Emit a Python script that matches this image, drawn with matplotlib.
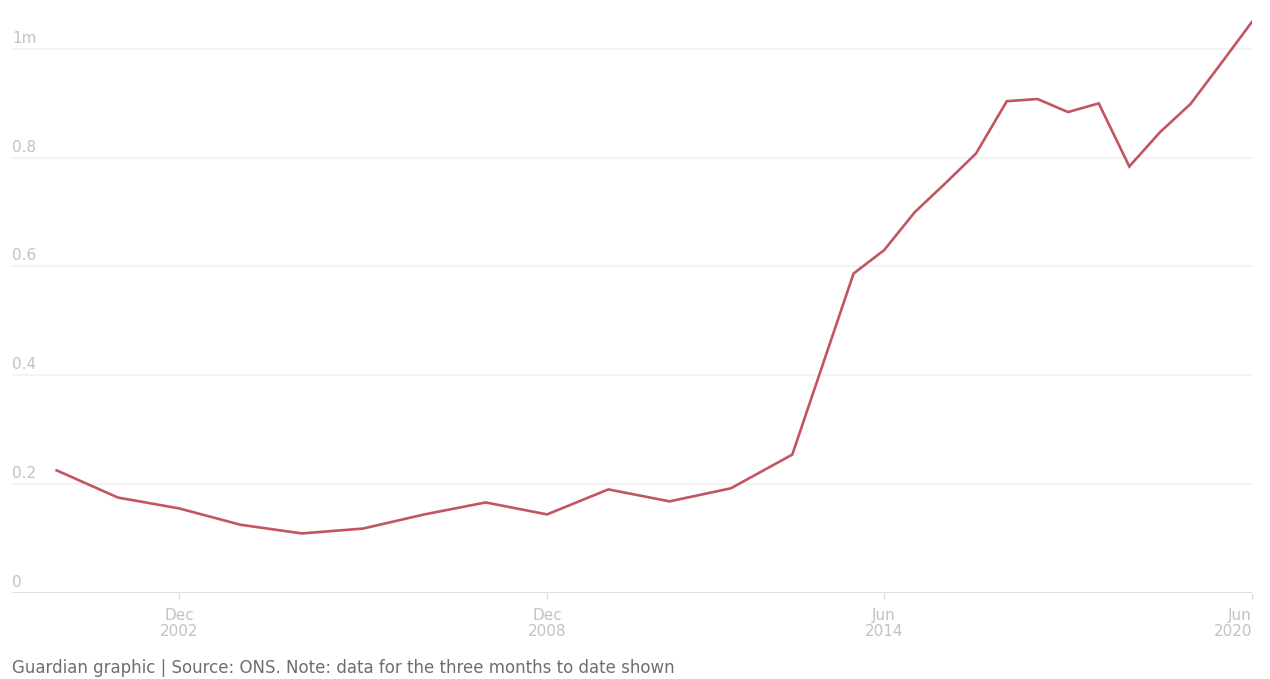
import numpy as np
import pandas as pd
import matplotlib
matplotlib.use("Agg")
import matplotlib.pyplot as plt
import matplotlib.dates as mdates
import matplotlib.transforms as mtransforms

plt.rcParams['font.family'] = ['DejaVu Sans']

# ---------------------------------------------------------------- data
# yearly readings to Dec 2013, then every six months
dates = ['2000-12', '2001-12', '2002-12', '2003-12', '2004-12', '2005-12',
         '2006-12', '2007-12', '2008-12', '2009-12', '2010-12', '2011-12',
         '2012-12', '2013-12', '2014-06', '2014-12', '2015-06', '2015-12',
         '2016-06', '2016-12', '2017-06', '2017-12', '2018-06', '2018-12',
         '2019-06', '2019-12', '2020-06']
values = [0.225, 0.175, 0.155, 0.125, 0.109, 0.118,
          0.144, 0.166, 0.144, 0.190, 0.168, 0.192,
          0.254, 0.587, 0.630, 0.700, 0.753, 0.808,
          0.904, 0.908, 0.884, 0.900, 0.784, 0.847,
          0.899, 0.974, 1.050]

ytick_vals = [0, 0.2, 0.4, 0.6, 0.8, 1.0]
ytick_labels = ['0', '0.2', '0.4', '0.6', '0.8', '1m']
xtick_dates = ['2002-12', '2008-12', '2014-06', '2020-06']
xtick_labels = ['Dec\n2002', 'Dec\n2008', 'Jun\n2014', 'Jun\n2020']

footer = 'Guardian graphic | Source: ONS. Note: data for the three months to date shown'

# ---------------------------------------------------------------- figure
W, H = 1270, 679
fig = plt.figure(figsize=(W / 100, H / 100), dpi=100)
fig.patch.set_facecolor('white')

x0, x1 = 12, 1252          # pixel extent of plot area
y_base = 592.7             # pixel row of zero line
px_per_unit = 543.7
ymax = 1.06
ax = fig.add_axes([x0 / W, (H - y_base) / H, (x1 - x0) / W, ymax * px_per_unit / H])

t = pd.to_datetime(dates)
ax.plot(t, values, color='#c25561', lw=1.9, solid_joinstyle='miter', zorder=3)

ax.set_xlim(pd.Timestamp('2000-03-10'), pd.Timestamp('2020-06-01'))
ax.set_ylim(0, ymax)

for s in ax.spines.values():
    s.set_visible(False)

# gridlines with labels sitting on top of them
lbl_trans = mtransforms.blended_transform_factory(ax.transAxes, ax.transData)
lift = mtransforms.ScaledTranslation(0, 3 / 100, fig.dpi_scale_trans)
for v, lab in zip(ytick_vals, ytick_labels):
    ax.axhline(v, color='#dedede' if v == 0 else '#f1f1f1',
               lw=1.4 if v == 0 else 1.2, zorder=1)
    ax.text(0.0, v, lab, transform=lbl_trans + lift,
            ha='left', va='bottom', fontsize=11, color='#c2c2c2')
ax.set_yticks([])

ax.set_xticks(pd.to_datetime(xtick_dates))
ax.set_xticklabels(xtick_labels, fontsize=11, color='#c2c2c2', linespacing=1.05)
ax.tick_params(axis='x', length=4, width=1, color='#dcdcdc', pad=7)
xl = ax.get_xticklabels()
xl[-1].set_horizontalalignment('right')
xl[-1].set_multialignment('right')

fig.text(x0 / W, (H - 668) / H, footer, fontsize=12, color='#6e6e6e',
         ha='left', va='center')

fig.savefig('out.png', dpi=100, facecolor='white')
